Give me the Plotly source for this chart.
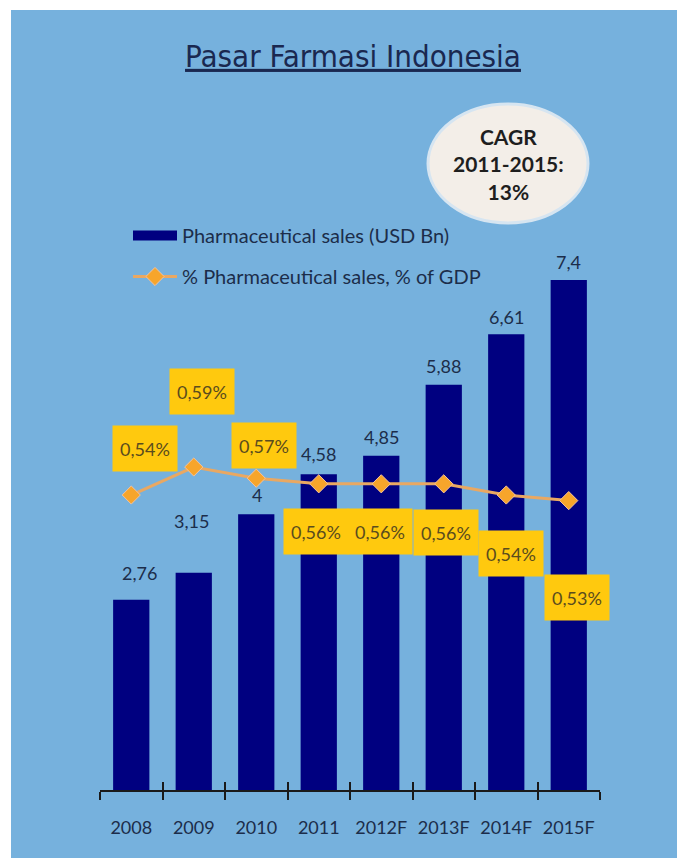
import plotly.graph_objects as go

# ---------------- data ----------------
years = ["2008", "2009", "2010", "2011", "2012F", "2013F", "2014F", "2015F"]
sales_usd_bn = [2.76, 3.15, 4.00, 4.58, 4.85, 5.88, 6.61, 7.40]
sales_labels = ["2,76", "3,15", "4", "4,58", "4,85", "5,88", "6,61", "7,4"]
pct_gdp = [0.54, 0.59, 0.57, 0.56, 0.56, 0.56, 0.54, 0.53]
pct_labels = ["0,54%", "0,59%", "0,57%", "0,56%", "0,56%", "0,56%", "0,54%", "0,53%"]

# ---------------- styles / offsets (pixels) ----------------
BG = "#76B1DD"
NAVY = "#000080"
ORANGE = "#F7A52B"
LINE = "#E9A862"
YELLOW = "#FFC90E"
TXT = "#1C2D4A"
FONT = "Lato, Open Sans, sans-serif"

sales_label_shift = [(8, 27), (-2, 52), (1, 19), (0, 20), (0, 19), (0, 19), (0, 17), (0, 18)]
pct_label_shift = [(14, 47), (8, 76), (8, 33), (-3, -48), (-1, -48), (2, -49), (5, -58), (8, -97)]

W, H = 677, 858
L, R, T, B = 100, 77, 100, 68
PW, PH = W - L - R, H - T - B


def px(x):
    return (x - L) / PW


def py(y):
    return (H - B - y) / PH


fig = go.Figure()

fig.add_trace(go.Bar(
    x=years, y=sales_usd_bn, name="Pharmaceutical sales (USD Bn)",
    marker=dict(color=NAVY, line=dict(width=0)),
    showlegend=False, xaxis="x", yaxis="y",
))
# legend swatch for the bars (wide rectangle like the original legend key)
fig.add_trace(go.Scatter(
    x=[None], y=[None], name="Pharmaceutical sales (USD Bn)",
    mode="lines", line=dict(color=NAVY, width=14),
    legendgroup="a", xaxis="x", yaxis="y", hoverinfo="skip",
))

fig.add_trace(go.Scatter(
    x=years, y=pct_gdp, name="% Pharmaceutical sales, % of GDP",
    mode="lines+markers",
    line=dict(color=LINE, width=3),
    marker=dict(symbol="diamond", size=14, color=ORANGE,
                line=dict(color="#F6C29A", width=1)),
    legendgroup="b", xaxis="x2", yaxis="y2",
))

annotations = []
# category index is used as x so that numeric-looking names ("2008") are not
# mistaken for linear positions
for i, (v, lab) in enumerate(zip(sales_usd_bn, sales_labels)):
    dx, dy = sales_label_shift[i]
    annotations.append(dict(
        x=i, y=v, xref="x", yref="y", text=lab, showarrow=False,
        xanchor="center", yanchor="middle", xshift=dx, yshift=dy,
        font=dict(family=FONT, size=18, color=TXT),
    ))
for i, (v, lab) in enumerate(zip(pct_gdp, pct_labels)):
    dx, dy = pct_label_shift[i]
    annotations.append(dict(
        x=i, y=v, xref="x2", yref="y2", text=lab, showarrow=False,
        xanchor="center", yanchor="middle", xshift=dx, yshift=dy,
        width=64, height=45, bgcolor=YELLOW, borderpad=0,
        font=dict(family=FONT, size=18, color="#5A4C1E"),
    ))

# CAGR bubble text
annotations.append(dict(
    x=px(508), y=py(164), xref="paper", yref="paper", showarrow=False,
    text="<b>CAGR<br>2011-2015:<br>13%</b>", align="center",
    xanchor="center", yanchor="middle",
    font=dict(family=FONT, size=21, color="#1E1E1E"),
))

shapes = [
    # white page margin at top and left of the blue card
    dict(type="rect", xref="paper", yref="paper", layer="below",
         x0=px(0), x1=px(W), y0=py(10), y1=py(0),
         fillcolor="white", line=dict(width=0)),
    dict(type="rect", xref="paper", yref="paper", layer="below",
         x0=px(0), x1=px(11), y0=py(H), y1=py(0),
         fillcolor="white", line=dict(width=0)),
    # CAGR ellipse
    dict(type="circle", xref="paper", yref="paper", layer="above",
         x0=px(428), x1=px(588), y0=py(223), y1=py(104),
         fillcolor="#F3EEE8", line=dict(color="#D6E5F1", width=3)),
]

fig.update_layout(
    width=W, height=H,
    margin=dict(l=L, r=R, t=T, b=B, pad=0),
    paper_bgcolor=BG, plot_bgcolor="rgba(0,0,0,0)",
    bargap=0.42,
    showlegend=True,
    legend=dict(
        x=px(128), y=py(216), xanchor="left", yanchor="top",
        bgcolor="rgba(0,0,0,0)", itemwidth=44,
        traceorder="grouped", tracegroupgap=12,
        font=dict(family=FONT, size=20, color=TXT),
    ),
    title=dict(
        text="Pasar Farmasi Indonesia",
        x=px(353), xanchor="center", xref="paper",
        y=1 - 56 / H, yanchor="middle", yref="container",
        font=dict(family="Liberation Sans Narrow, Arial Narrow, DejaVu Sans Condensed, sans-serif",
                  size=31, color="#1A2850", lineposition="under"),
    ),
    xaxis=dict(
        type="category", range=[-0.5, 7.5],
        showline=True, linecolor="#1A1A1A", linewidth=2,
        ticks="outside", tickson="boundaries", ticklen=8, tickwidth=2,
        tickcolor="#1A1A1A", ticklabelstandoff=20,
        showgrid=False, zeroline=False,
        tickfont=dict(family=FONT, size=18, color=TXT),
    ),
    xaxis2=dict(
        type="category", range=[-0.5, 7.5], overlaying="x", anchor="y2",
        side="bottom", showline=False,
        ticks="inside", tickson="boundaries", ticklen=8, tickwidth=2,
        tickcolor="#1A1A1A", showticklabels=False, showgrid=False,
        zeroline=False,
    ),
    yaxis=dict(range=[0, 10.01], visible=False, showgrid=False),
    yaxis2=dict(range=[0.0132, 1.2454], overlaying="y", anchor="x2",
                visible=False, showgrid=False),
    annotations=annotations,
    shapes=shapes,
)

fig.write_html("out.html")
